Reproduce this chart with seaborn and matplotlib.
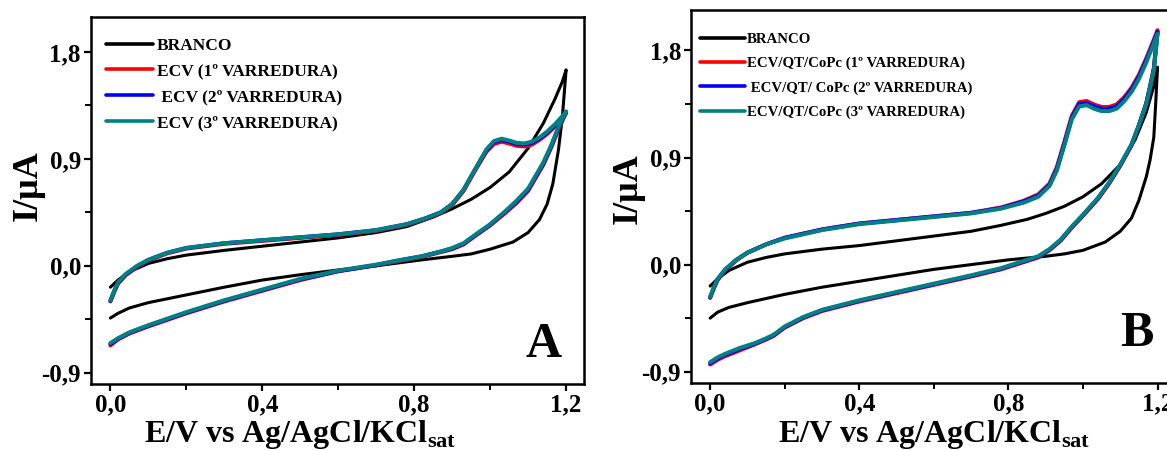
import matplotlib
matplotlib.use("Agg")
import matplotlib.pyplot as plt
import seaborn as sns
import pandas as pd
from matplotlib.ticker import FixedLocator, FixedFormatter

# ---------------- data ----------------
x_ticks = [0.0, 0.4, 0.8, 1.2]
x_tick_labels = ["0,0", "0,4", "0,8", "1,2"]
x_minor = [0.2, 0.6, 1.0]
y_ticks = [-0.9, 0.0, 0.9, 1.8]
y_tick_labels = ["-0,9", "0,0", "0,9", "1,8"]
y_minor = [-0.45, 0.45, 1.35]

labels_A = ["BRANCO", "ECV (1º VARREDURA)", " ECV (2º VARREDURA)", "ECV (3º VARREDURA)"]
labels_B = ["BRANCO", "ECV/QT/CoPc (1º VARREDURA)", " ECV/QT/ CoPc (2º VARREDURA)",
            "ECV/QT/CoPc (3º VARREDURA)"]
colors = ["#000000", "#ff0000", "#0000ff", "#008080"]

# ---- Panel A ----
A_black_E = [0.00, 0.02, 0.05, 0.10, 0.15, 0.20, 0.30, 0.40, 0.50, 0.60, 0.70, 0.78, 0.85, 0.90,
             0.95, 1.00, 1.05, 1.10, 1.14, 1.17, 1.19, 1.20,
             1.195, 1.19, 1.18, 1.165, 1.15, 1.13, 1.10, 1.06, 1.00, 0.95, 0.90, 0.82, 0.70,
             0.60, 0.50, 0.40, 0.30, 0.20, 0.10, 0.05, 0.02, 0.00]
A_black_I = [-0.18, -0.12, -0.05, 0.02, 0.06, 0.09, 0.13, 0.165, 0.20, 0.235, 0.28, 0.33, 0.41, 0.48,
             0.56, 0.66, 0.79, 0.99, 1.20, 1.40, 1.55, 1.65,
             1.45, 1.25, 0.98, 0.69, 0.52, 0.39, 0.28, 0.20, 0.14, 0.10, 0.08, 0.05, 0.00,
             -0.035, -0.075, -0.12, -0.18, -0.245, -0.31, -0.355, -0.40, -0.44]

A_col_E = [0.00, 0.01, 0.02, 0.04, 0.07, 0.10, 0.15, 0.20, 0.30, 0.40, 0.50, 0.60, 0.70, 0.78,
           0.83, 0.87, 0.90, 0.93, 0.96, 0.99, 1.01, 1.03, 1.05, 1.07, 1.09, 1.11, 1.13, 1.15,
           1.17, 1.19, 1.20,
           1.19, 1.18, 1.16, 1.14, 1.12, 1.10, 1.07, 1.04, 1.00, 0.96, 0.93, 0.90, 0.87, 0.82,
           0.75, 0.70, 0.60, 0.50, 0.40, 0.30, 0.20, 0.10, 0.05, 0.02, 0.00]
A_teal_I = [-0.29, -0.21, -0.14, -0.07, 0.00, 0.05, 0.11, 0.15, 0.19, 0.215, 0.24, 0.265, 0.30, 0.35,
            0.40, 0.45, 0.52, 0.64, 0.81, 0.98, 1.05, 1.07, 1.055, 1.035, 1.03, 1.045, 1.08, 1.13,
            1.19, 1.26, 1.30,
            1.24, 1.17, 1.01, 0.87, 0.76, 0.65, 0.55, 0.46, 0.35, 0.26, 0.19, 0.15, 0.12, 0.08,
            0.04, 0.01, -0.04, -0.11, -0.20, -0.29, -0.39, -0.50, -0.56, -0.61, -0.65]
A_red_I = [-0.30, -0.22, -0.15, -0.08, -0.01, 0.045, 0.105, 0.145, 0.185, 0.21, 0.235, 0.26, 0.295, 0.345,
           0.395, 0.445, 0.51, 0.63, 0.80, 0.96, 1.025, 1.045, 1.03, 1.01, 1.005, 1.02, 1.06, 1.11,
           1.17, 1.24, 1.29,
           1.22, 1.15, 0.99, 0.85, 0.74, 0.63, 0.53, 0.445, 0.34, 0.25, 0.18, 0.14, 0.115, 0.075,
           0.035, 0.005, -0.045, -0.12, -0.21, -0.30, -0.40, -0.51, -0.57, -0.62, -0.67]
A_blue_I = [-0.295, -0.215, -0.145, -0.075, -0.005, 0.05, 0.11, 0.15, 0.19, 0.215, 0.24, 0.265, 0.30, 0.35,
            0.40, 0.45, 0.52, 0.64, 0.81, 0.97, 1.04, 1.06, 1.045, 1.025, 1.02, 1.035, 1.07, 1.12,
            1.18, 1.25, 1.295,
            1.23, 1.16, 1.00, 0.86, 0.75, 0.64, 0.54, 0.455, 0.345, 0.255, 0.185, 0.145, 0.12, 0.08,
            0.04, 0.005, -0.045, -0.115, -0.205, -0.295, -0.395, -0.505, -0.565, -0.615, -0.66]

# ---- Panel B ----
B_black_E = [0.00, 0.02, 0.05, 0.10, 0.15, 0.20, 0.30, 0.40, 0.50, 0.60, 0.70, 0.78, 0.85, 0.90,
             0.95, 1.00, 1.05, 1.10, 1.14, 1.17, 1.19, 1.20,
             1.195, 1.19, 1.18, 1.17, 1.15, 1.13, 1.10, 1.06, 1.00, 0.95, 0.90, 0.80, 0.70,
             0.60, 0.50, 0.40, 0.30, 0.20, 0.10, 0.05, 0.02, 0.00]
B_black_I = [-0.18, -0.12, -0.05, 0.02, 0.06, 0.09, 0.13, 0.16, 0.20, 0.24, 0.28, 0.33, 0.38, 0.43,
             0.49, 0.57, 0.68, 0.84, 1.05, 1.28, 1.50, 1.66,
             1.35, 1.07, 0.88, 0.74, 0.54, 0.39, 0.28, 0.19, 0.12, 0.09, 0.07, 0.04, 0.00,
             -0.04, -0.09, -0.14, -0.19, -0.25, -0.32, -0.36, -0.40, -0.45]

B_col_E = [0.00, 0.01, 0.02, 0.04, 0.07, 0.10, 0.15, 0.20, 0.30, 0.40, 0.50, 0.60, 0.70, 0.78,
           0.84, 0.88, 0.91, 0.93, 0.95, 0.97, 0.99, 1.01, 1.03, 1.05, 1.07, 1.09, 1.11, 1.13,
           1.15, 1.17, 1.19, 1.20,
           1.19, 1.18, 1.17, 1.15, 1.13, 1.10, 1.07, 1.04, 1.00, 0.97, 0.94, 0.91, 0.88, 0.82,
           0.78, 0.70, 0.60, 0.50, 0.40, 0.30, 0.25, 0.20, 0.17, 0.15, 0.12, 0.08, 0.04, 0.02, 0.00]
B_teal_I = [-0.27, -0.19, -0.12, -0.04, 0.04, 0.10, 0.17, 0.22, 0.29, 0.34, 0.37, 0.40, 0.43, 0.47,
            0.52, 0.57, 0.66, 0.79, 1.00, 1.22, 1.33, 1.34, 1.31, 1.29, 1.29, 1.31, 1.37, 1.45,
            1.56, 1.70, 1.86, 1.94,
            1.63, 1.49, 1.35, 1.17, 1.01, 0.84, 0.69, 0.56, 0.42, 0.32, 0.21, 0.13, 0.07, 0.01,
            -0.03, -0.09, -0.16, -0.23, -0.30, -0.38, -0.44, -0.52, -0.59, -0.62, -0.66, -0.70, -0.75, -0.78, -0.82]
B_red_I = [-0.28, -0.20, -0.13, -0.05, 0.035, 0.10, 0.17, 0.225, 0.295, 0.345, 0.375, 0.405, 0.435, 0.48,
           0.535, 0.59, 0.68, 0.82, 1.03, 1.25, 1.365, 1.375, 1.345, 1.325, 1.325, 1.345, 1.405, 1.485,
           1.595, 1.735, 1.89, 1.97,
           1.65, 1.50, 1.36, 1.17, 1.00, 0.83, 0.68, 0.55, 0.41, 0.31, 0.20, 0.12, 0.06, 0.00,
           -0.04, -0.10, -0.17, -0.24, -0.31, -0.39, -0.45, -0.53, -0.60, -0.63, -0.67, -0.72, -0.77, -0.80, -0.84]
B_blue_I = [-0.275, -0.195, -0.125, -0.045, 0.04, 0.10, 0.17, 0.225, 0.295, 0.345, 0.375, 0.405, 0.435, 0.475,
            0.53, 0.58, 0.67, 0.805, 1.015, 1.235, 1.35, 1.36, 1.33, 1.31, 1.31, 1.33, 1.39, 1.47,
            1.58, 1.72, 1.875, 1.955,
            1.64, 1.495, 1.355, 1.17, 1.005, 0.835, 0.685, 0.555, 0.415, 0.315, 0.205, 0.125, 0.065, 0.005,
            -0.035, -0.095, -0.165, -0.235, -0.305, -0.385, -0.445, -0.525, -0.595, -0.625, -0.665, -0.71, -0.76, -0.79, -0.83]

# ---------------- styling ----------------
sns.set_theme(style="ticks")
plt.rcParams["font.family"] = ["Liberation Serif", "DejaVu Serif"]
plt.rcParams["font.weight"] = "bold"
plt.rcParams["mathtext.fontset"] = "custom"
plt.rcParams["mathtext.rm"] = "Liberation Serif:bold"
plt.rcParams["mathtext.bf"] = "Liberation Serif:bold"
plt.rcParams["axes.linewidth"] = 1.8

fig = plt.figure(figsize=(11.67, 4.5), dpi=100)
axA = fig.add_axes([0.0777, 0.1467, 0.4227, 0.8156])
axB = fig.add_axes([0.5919, 0.1489, 0.4150, 0.8289])


def draw(ax, series, labels, lws):
    for (E, I), lab, col, lw in zip(series, labels, colors, lws):
        df = pd.DataFrame({"E": E, "I": I})
        sns.lineplot(data=df, x="E", y="I", sort=False, estimator=None, color=col,
                     linewidth=lw, label=lab, ax=ax)


draw(axA, [(A_black_E, A_black_I), (A_col_E, A_red_I), (A_col_E, A_blue_I), (A_col_E, A_teal_I)],
     labels_A, [2.2, 2.9, 2.9, 2.9])
draw(axB, [(B_black_E, B_black_I), (B_col_E, B_red_I), (B_col_E, B_blue_I), (B_col_E, B_teal_I)],
     labels_B, [2.2, 2.9, 2.9, 2.9])

for ax in (axA, axB):
    ax.set_xlim(-0.052, 1.247)
    ax.xaxis.set_major_locator(FixedLocator(x_ticks))
    ax.xaxis.set_major_formatter(FixedFormatter(x_tick_labels))
    ax.xaxis.set_minor_locator(FixedLocator(x_minor))
    ax.yaxis.set_major_locator(FixedLocator(y_ticks))
    ax.yaxis.set_major_formatter(FixedFormatter(y_tick_labels))
    ax.yaxis.set_minor_locator(FixedLocator(y_minor))
    ax.tick_params(which="major", direction="out", length=5, width=1.6, labelsize=18,
                   color="black", labelcolor="black", pad=2)
    ax.tick_params(which="minor", direction="out", length=4, width=1.4, color="black")
    for lab in ax.get_xticklabels() + ax.get_yticklabels():
        lab.set_fontweight("bold")
    for sp in ax.spines.values():
        sp.set_visible(True)
        sp.set_color("black")
        sp.set_linewidth(1.8)
    ax.set_xlabel("E/V vs Ag/AgCl/KCl$_{\\mathbf{sat}}$", fontsize=23, fontweight="bold", color="black")
    ax.set_ylabel("I/μA", fontsize=26, fontweight="bold", color="black")

axA.set_ylim(-0.995, 2.095)
axB.set_ylim(-0.995, 2.14)

axA.xaxis.set_label_coords(0.424, -0.094)
axA.yaxis.set_label_coords(-0.093, 0.54)
axB.xaxis.set_label_coords(0.503, -0.094)
axB.yaxis.set_label_coords(-0.094, 0.52)

legA = axA.legend(loc="upper left", bbox_to_anchor=(0.032, 0.944), frameon=False, borderpad=0,
                  borderaxespad=0, fontsize=12.5, handlelength=2.66, handletextpad=0.25,
                  labelspacing=0.56)
legB = axB.legend(loc="upper left", bbox_to_anchor=(0.019, 0.939), frameon=False, borderpad=0,
                  borderaxespad=0, fontsize=10.7, handlelength=3.0, handletextpad=0.15,
                  labelspacing=0.72)
for leg in (legA, legB):
    for t in leg.get_texts():
        t.set_fontweight("bold")
        t.set_color("black")
    for h in leg.get_lines():
        h.set_linewidth(2.6)

axA.text(1.14, -0.77, "A", fontsize=36, fontweight="bold", ha="center", va="baseline", color="black")
axB.text(1.144, -0.68, "B", fontsize=36, fontweight="bold", ha="center", va="baseline", color="black")

fig.savefig("out.png", dpi=100)
